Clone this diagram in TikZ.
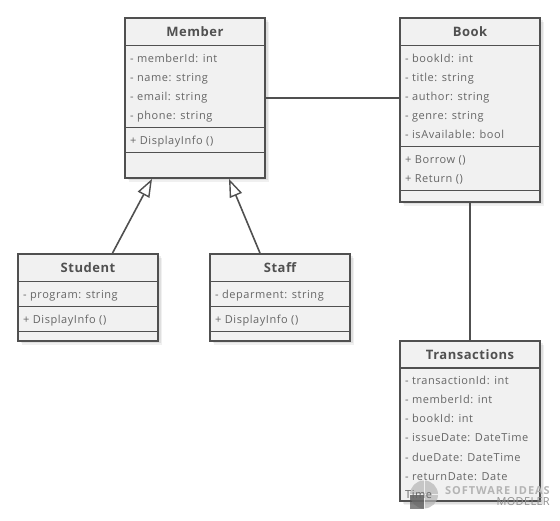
\documentclass[tikz,border=0pt]{standalone}
\usepackage{fontspec}
\setmainfont{Open Sans}
\usetikzlibrary{calc,arrows.meta,shadows}

\tikzset{
  classbox/.style={draw=linecol, line width=1.8pt, fill=boxcol, minimum width=140pt,
    inner sep=0pt,
    drop shadow={shadow xshift=1pt, shadow yshift=-1pt, fill=black, opacity=.05, scale=1.05},
    drop shadow={shadow xshift=4pt, shadow yshift=-4pt, fill=black, opacity=.06},
    drop shadow={shadow xshift=2.5pt, shadow yshift=-2.5pt, fill=black, opacity=.07}},
  classname/.style={font=\fontsize{13}{14}\selectfont\bfseries\addfontfeature{LetterSpace=4}, text=linecol, anchor=base, inner sep=0pt},
  member/.style={font=\fontsize{11}{12}\selectfont\addfontfeature{LetterSpace=5}, text=textcol, anchor=base west, inner sep=0pt},
  sepline/.style={draw=linecol, line width=1.5pt},
  assoc/.style={draw=linecol, line width=1.6pt},
  inherit/.style={draw=linecol, line width=1.6pt,
    -{Triangle[open, fill=white, length=18pt, width=13pt, line width=1.4pt]}},
  markbig/.style={anchor=base east, inner sep=0pt, text=markcol, font=\fontsize{11}{12}\selectfont\bfseries\addfontfeature{LetterSpace=9}},
  marksmall/.style={anchor=base east, inner sep=0pt, text=markcol!80!black, font=\fontsize{11}{12}\selectfont\addfontfeature{LetterSpace=3}}
}
\definecolor{linecol}{HTML}{505050}
\definecolor{boxcol}{HTML}{F1F1F1}
\definecolor{textcol}{HTML}{666666}
\definecolor{markcol}{HTML}{B4B4B4}

\begin{document}
\begin{tikzpicture}[x=1pt, y=-1pt]
    \useasboundingbox (0,0) rectangle (560,521);

    % classes
    \node[classbox, minimum height=160pt] (member) at (195,98) {};
    \node[classbox, minimum height=184pt] (book) at (470,110) {};
    \node[classbox, minimum height=87pt] (student) at (88,297.5) {};
    \node[classbox, minimum height=87pt] (staff) at (280,297.5) {};
    \node[classbox, minimum height=160pt] (transactions) at (470,421) {};

    % compartments
    \draw[sepline] (125,45.5) -- (265,45.5) (125,127.5) -- (265,127.5) (125,152.5) -- (265,152.5);
    \draw[sepline] (400,45.5) -- (540,45.5) (400,146.5) -- (540,146.5) (400,190.5) -- (540,190.5);
    \draw[sepline] (18,281.5) -- (158,281.5) (18,306.5) -- (158,306.5) (18,331.5) -- (158,331.5);
    \draw[sepline] (210,281.5) -- (350,281.5) (210,306.5) -- (350,306.5) (210,331.5) -- (350,331.5);
    \draw[sepline] (400,368) -- (540,368);

    % watermark
    \fill[markcol, opacity=.7] (424,494.5) circle (14);
    \fill[linecol, opacity=.7] (410,494.5) rectangle (424,509);
    \draw[white, line width=1pt, opacity=.7] (424,480) -- (424,509) (410,494.5) -- (438,494.5);
    \node[markbig] (markTop) at (550,494.5) {SOFTWARE IDEAS};
    \node[marksmall] (markBottom) at (550,505) {MODELER};

    % names
    \node[classname] (memberName) at (195,36.5) {Member};
    \node[classname] (bookName) at (470,36.5) {Book};
    \node[classname] (studentName) at (88,272.5) {Student};
    \node[classname] (staffName) at (280,272.5) {Staff};
    \node[classname] (transactionsName) at (470,360) {Transactions};

    % rows
    \foreach \y/\t [count=\i] in {62.5/- memberId: int, 81.5/- name: string, 100.5/- email: string,
        119.5/- phone: string, 144.5/+ DisplayInfo ()}
      {\node[member] (memberRow\i) at (130,\y) {\t};}
    \foreach \y/\t [count=\i] in {62.5/- bookId: int, 81.5/- title: string, 100.5/- author: string,
        119.5/- genre: string, 138.5/- isAvailable: bool, 163.5/+ Borrow (), 182.5/+ Return ()}
      {\node[member] (bookRow\i) at (405,\y) {\t};}
    \foreach \y/\t [count=\i] in {299/- program: string, 324/+ DisplayInfo ()}
      {\node[member] (studentRow\i) at (23,\y) {\t};}
    \foreach \y/\t [count=\i] in {299/- deparment: string, 324/+ DisplayInfo ()}
      {\node[member] (staffRow\i) at (215,\y) {\t};}
    \foreach \y/\t [count=\i] in {385/- transactionId: int, 404/- memberId: int, 423/- bookId: int,
        442/- issueDate: DateTime, 461/- dueDate: DateTime, 480/- returnDate: Date, 498.5/Time}
      {\node[member] (transactionsRow\i) at (405,\y) {\t};}

    % connectors
    \draw[assoc] (member.east) -- (book.west |- member.east);
    \draw[assoc] (book.south) -- (transactions.north);
    \draw[inherit] ($(student.north)+(24.5,0)$) -- ($(member.south)+(-43,0)$);
    \draw[inherit] ($(staff.north)+(-20,0)$) -- ($(member.south)+(34,0)$);
\end{tikzpicture}
\end{document}
